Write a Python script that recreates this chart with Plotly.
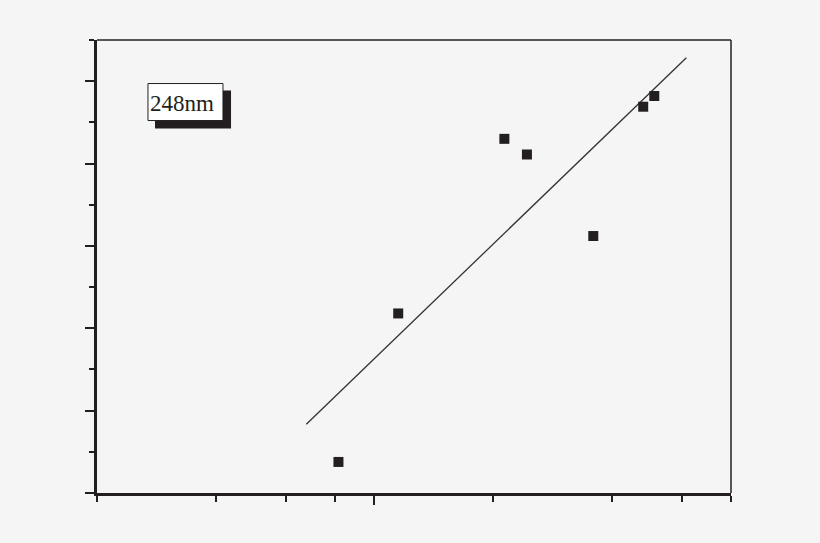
import plotly.graph_objects as go

# measured points (x on log scale)
x_pts = [8.15, 11.54, 21.4, 24.4, 35.9, 48.0, 51.2]
y_pts = [0.377, 2.18, 4.30, 4.11, 3.12, 4.69, 4.82]

# fitted line end points
x_fit = [6.76, 61.7]
y_fit = [0.834, 5.285]

x_major = [10]
x_minor = [2, 4, 6, 8, 20, 40, 60, 80]
label = "248nm"

ink = "#231f20"
bg = "#f5f5f5"

fig = go.Figure()
fig.add_trace(go.Scatter(x=x_fit, y=y_fit, mode="lines",
                         line=dict(color="#333333", width=1.3), showlegend=False))
fig.add_trace(go.Scatter(x=x_pts, y=y_pts, mode="markers",
                         marker=dict(symbol="square", size=10, color=ink,
                                     line=dict(width=0)),
                         showlegend=False))

# label box with drop shadow
fig.add_shape(type="rect", xref="paper", yref="paper",
              x0=0.0915, x1=0.2114, y0=0.8046, y1=0.8885,
              fillcolor=ink, line=dict(width=0))
fig.add_shape(type="rect", xref="paper", yref="paper",
              x0=0.0804, x1=0.1987, y0=0.8222, y1=0.9039,
              fillcolor="white", line=dict(color=ink, width=1))
fig.add_annotation(text=label, xref="paper", yref="paper", x=0.1333, y=0.86,
                   xanchor="center", yanchor="middle", showarrow=False,
                   font=dict(family="Liberation Serif", size=23, color=ink))

# thin top and right frame
fig.add_shape(type="line", xref="paper", yref="paper", x0=0, x1=1, y0=1, y1=1,
              line=dict(color=ink, width=1.5))
fig.add_shape(type="line", xref="paper", yref="paper", x0=1, x1=1, y0=0, y1=1,
              line=dict(color=ink, width=1.5))

fig.update_layout(
    width=820, height=543,
    margin=dict(l=97, r=89, t=40, b=50),
    paper_bgcolor=bg, plot_bgcolor=bg,
    xaxis=dict(type="log", range=[0.30103, 1.90309],
               showgrid=False, zeroline=False, showticklabels=False,
               showline=True, linecolor=ink, linewidth=2.5,
               ticks="outside", tickvals=x_major, ticklen=9, tickwidth=2,
               tickcolor=ink,
               minor=dict(tickvals=x_minor, ticks="outside", ticklen=6,
                          tickwidth=1.5, tickcolor=ink, showgrid=False)),
    yaxis=dict(range=[0, 5.5], showgrid=False, zeroline=False,
               showticklabels=False, showline=True, linecolor=ink,
               linewidth=2.5, ticks="outside", tick0=0, dtick=1, ticklen=9,
               tickwidth=2, tickcolor=ink,
               minor=dict(tick0=0.5, dtick=0.5, ticks="outside", ticklen=5,
                          tickwidth=1.5, tickcolor=ink, showgrid=False)),
)

# drop the page's default body margin so the figure fills the window
fig.write_html("out.html", config={"displayModeBar": False},
               post_script="document.body.style.margin='0';"
                           "document.body.style.background='#f5f5f5';")
